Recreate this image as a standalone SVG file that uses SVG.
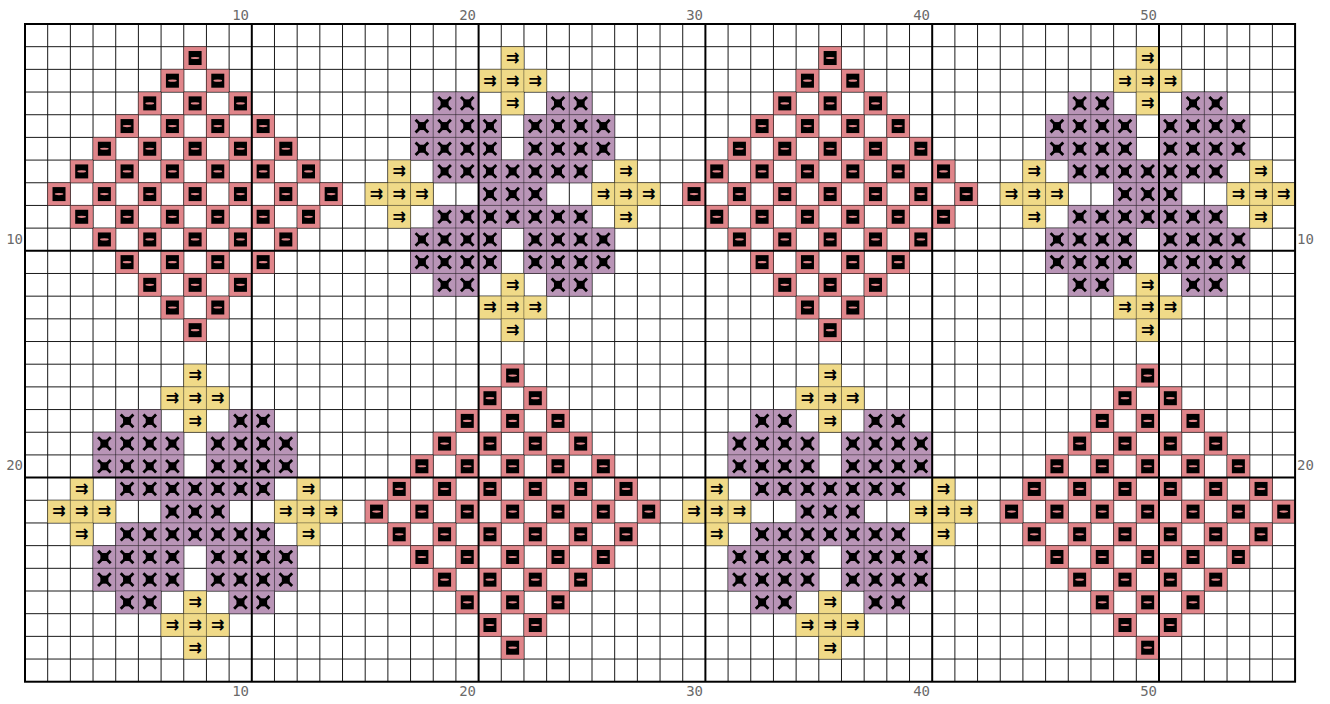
<svg xmlns="http://www.w3.org/2000/svg" xmlns:xlink="http://www.w3.org/1999/xlink" width="1330" height="704" viewBox="0 0 1330 704">
<style>
.g{stroke:#1a1a1a;stroke-width:1;fill:none}
.t{stroke:#000;stroke-width:2;fill:none}
.rf{fill:#E0858A;stroke:rgba(0,0,0,0.28);stroke-width:1}
.pf{fill:#B995B7;stroke:rgba(0,0,0,0.28);stroke-width:1}
.yf{fill:#F0DA88;stroke:rgba(0,0,0,0.25);stroke-width:1}
.lab{font-family:"DejaVu Sans Mono","Liberation Mono",monospace;font-size:14px;fill:#6a6a6a}
.ys{font-family:"DejaVu Sans",sans-serif;font-size:16px;font-weight:bold;fill:#000}
</style>
<defs>
<g id="r"><rect class="rf" width="22.68" height="22.68"/><rect x="4.84" y="4.34" width="13" height="14" fill="#000"/><ellipse cx="11.34" cy="11.34" rx="4.3" ry="1.1" fill="#E0858A"/></g>
<g id="p"><rect class="pf" width="22.68" height="22.68"/><path d="M6 6L16.68 16.68M16.68 6L6 16.68" stroke="#000" stroke-width="2.8" stroke-linecap="square"/><rect x="7.34" y="7.34" width="8" height="8" fill="#000"/></g>
<g id="y"><rect class="yf" width="22.68" height="22.68"/><text class="ys" x="11.34" y="16.2" text-anchor="middle">⇉</text></g>
<g id="redMotif">
<use href="#r" x="0" y="-136.08"/>
<use href="#r" x="-22.68" y="-113.4"/><use href="#r" x="22.68" y="-113.4"/>
<use href="#r" x="-45.36" y="-90.72"/><use href="#r" x="0" y="-90.72"/><use href="#r" x="45.36" y="-90.72"/>
<use href="#r" x="-68.04" y="-68.04"/><use href="#r" x="-22.68" y="-68.04"/><use href="#r" x="22.68" y="-68.04"/><use href="#r" x="68.04" y="-68.04"/>
<use href="#r" x="-90.72" y="-45.36"/><use href="#r" x="-45.36" y="-45.36"/><use href="#r" x="0" y="-45.36"/><use href="#r" x="45.36" y="-45.36"/><use href="#r" x="90.72" y="-45.36"/>
<use href="#r" x="-113.4" y="-22.68"/><use href="#r" x="-68.04" y="-22.68"/><use href="#r" x="-22.68" y="-22.68"/><use href="#r" x="22.68" y="-22.68"/><use href="#r" x="68.04" y="-22.68"/><use href="#r" x="113.4" y="-22.68"/>
<use href="#r" x="-136.08" y="0"/><use href="#r" x="-90.72" y="0"/><use href="#r" x="-45.36" y="0"/><use href="#r" x="0" y="0"/><use href="#r" x="45.36" y="0"/><use href="#r" x="90.72" y="0"/><use href="#r" x="136.08" y="0"/>
<use href="#r" x="-113.4" y="22.68"/><use href="#r" x="-68.04" y="22.68"/><use href="#r" x="-22.68" y="22.68"/><use href="#r" x="22.68" y="22.68"/><use href="#r" x="68.04" y="22.68"/><use href="#r" x="113.4" y="22.68"/>
<use href="#r" x="-90.72" y="45.36"/><use href="#r" x="-45.36" y="45.36"/><use href="#r" x="0" y="45.36"/><use href="#r" x="45.36" y="45.36"/><use href="#r" x="90.72" y="45.36"/>
<use href="#r" x="-68.04" y="68.04"/><use href="#r" x="-22.68" y="68.04"/><use href="#r" x="22.68" y="68.04"/><use href="#r" x="68.04" y="68.04"/>
<use href="#r" x="-45.36" y="90.72"/><use href="#r" x="0" y="90.72"/><use href="#r" x="45.36" y="90.72"/>
<use href="#r" x="-22.68" y="113.4"/><use href="#r" x="22.68" y="113.4"/>
<use href="#r" x="0" y="136.08"/>
</g>
<g id="purpleMotif">
<use href="#p" x="-68.04" y="-90.72"/><use href="#p" x="-45.36" y="-90.72"/><use href="#p" x="45.36" y="-90.72"/><use href="#p" x="68.04" y="-90.72"/>
<use href="#p" x="-90.72" y="-68.04"/><use href="#p" x="-68.04" y="-68.04"/><use href="#p" x="-45.36" y="-68.04"/><use href="#p" x="-22.68" y="-68.04"/><use href="#p" x="22.68" y="-68.04"/><use href="#p" x="45.36" y="-68.04"/><use href="#p" x="68.04" y="-68.04"/><use href="#p" x="90.72" y="-68.04"/>
<use href="#p" x="-90.72" y="-45.36"/><use href="#p" x="-68.04" y="-45.36"/><use href="#p" x="-45.36" y="-45.36"/><use href="#p" x="-22.68" y="-45.36"/><use href="#p" x="22.68" y="-45.36"/><use href="#p" x="45.36" y="-45.36"/><use href="#p" x="68.04" y="-45.36"/><use href="#p" x="90.72" y="-45.36"/>
<use href="#p" x="-68.04" y="-22.68"/><use href="#p" x="-45.36" y="-22.68"/><use href="#p" x="-22.68" y="-22.68"/><use href="#p" x="0" y="-22.68"/><use href="#p" x="22.68" y="-22.68"/><use href="#p" x="45.36" y="-22.68"/><use href="#p" x="68.04" y="-22.68"/>
<use href="#p" x="-22.68" y="0"/><use href="#p" x="0" y="0"/><use href="#p" x="22.68" y="0"/>
<use href="#p" x="-68.04" y="22.68"/><use href="#p" x="-45.36" y="22.68"/><use href="#p" x="-22.68" y="22.68"/><use href="#p" x="0" y="22.68"/><use href="#p" x="22.68" y="22.68"/><use href="#p" x="45.36" y="22.68"/><use href="#p" x="68.04" y="22.68"/>
<use href="#p" x="-90.72" y="45.36"/><use href="#p" x="-68.04" y="45.36"/><use href="#p" x="-45.36" y="45.36"/><use href="#p" x="-22.68" y="45.36"/><use href="#p" x="22.68" y="45.36"/><use href="#p" x="45.36" y="45.36"/><use href="#p" x="68.04" y="45.36"/><use href="#p" x="90.72" y="45.36"/>
<use href="#p" x="-90.72" y="68.04"/><use href="#p" x="-68.04" y="68.04"/><use href="#p" x="-45.36" y="68.04"/><use href="#p" x="-22.68" y="68.04"/><use href="#p" x="22.68" y="68.04"/><use href="#p" x="45.36" y="68.04"/><use href="#p" x="68.04" y="68.04"/><use href="#p" x="90.72" y="68.04"/>
<use href="#p" x="-68.04" y="90.72"/><use href="#p" x="-45.36" y="90.72"/><use href="#p" x="45.36" y="90.72"/><use href="#p" x="68.04" y="90.72"/>
<use href="#y" x="0" y="-136.08"/>
<use href="#y" x="-22.68" y="-113.4"/><use href="#y" x="0" y="-113.4"/><use href="#y" x="22.68" y="-113.4"/>
<use href="#y" x="0" y="-90.72"/>
<use href="#y" x="-113.4" y="-22.68"/><use href="#y" x="113.4" y="-22.68"/>
<use href="#y" x="-136.08" y="0"/><use href="#y" x="-113.4" y="0"/><use href="#y" x="-90.72" y="0"/><use href="#y" x="90.72" y="0"/><use href="#y" x="113.4" y="0"/><use href="#y" x="136.08" y="0"/>
<use href="#y" x="-113.4" y="22.68"/><use href="#y" x="113.4" y="22.68"/>
<use href="#y" x="0" y="90.72"/>
<use href="#y" x="-22.68" y="113.4"/><use href="#y" x="0" y="113.4"/><use href="#y" x="22.68" y="113.4"/>
<use href="#y" x="0" y="136.08"/>
</g>
</defs>
<rect width="1330" height="704" fill="#fff"/>
<g id="grid-thin">
<path class="g" d="M47.68 24V681.72M70.36 24V681.72M93.04 24V681.72M115.72 24V681.72M138.4 24V681.72M161.08 24V681.72M183.76 24V681.72M206.44 24V681.72M229.12 24V681.72M274.48 24V681.72M297.16 24V681.72M319.84 24V681.72M342.52 24V681.72M365.2 24V681.72M387.88 24V681.72M410.56 24V681.72M433.24 24V681.72M455.92 24V681.72M501.28 24V681.72M523.96 24V681.72M546.64 24V681.72M569.32 24V681.72M592 24V681.72M614.68 24V681.72M637.36 24V681.72M660.04 24V681.72M682.72 24V681.72M728.08 24V681.72M750.76 24V681.72M773.44 24V681.72M796.12 24V681.72M818.8 24V681.72M841.48 24V681.72M864.16 24V681.72M886.84 24V681.72M909.52 24V681.72M954.88 24V681.72M977.56 24V681.72M1000.24 24V681.72M1022.92 24V681.72M1045.6 24V681.72M1068.28 24V681.72M1090.96 24V681.72M1113.64 24V681.72M1136.32 24V681.72M1181.68 24V681.72M1204.36 24V681.72M1227.04 24V681.72M1249.72 24V681.72M1272.4 24V681.72"/>
<path class="g" d="M25 46.68H1295.08M25 69.36H1295.08M25 92.04H1295.08M25 114.72H1295.08M25 137.4H1295.08M25 160.08H1295.08M25 182.76H1295.08M25 205.44H1295.08M25 228.12H1295.08M25 273.48H1295.08M25 296.16H1295.08M25 318.84H1295.08M25 341.52H1295.08M25 364.2H1295.08M25 386.88H1295.08M25 409.56H1295.08M25 432.24H1295.08M25 454.92H1295.08M25 500.28H1295.08M25 522.96H1295.08M25 545.64H1295.08M25 568.32H1295.08M25 591H1295.08M25 613.68H1295.08M25 636.36H1295.08M25 659.04H1295.08"/>
</g>
<g id="motifs">
<use id="motif-top-1" href="#redMotif" transform="translate(183.76,182.76)"/>
<use id="motif-top-2" href="#purpleMotif" transform="translate(501.28,182.76)"/>
<use id="motif-top-3" href="#redMotif" transform="translate(818.8,182.76)"/>
<use id="motif-top-4" href="#purpleMotif" transform="translate(1136.32,182.76)"/>
<use id="motif-bottom-1" href="#purpleMotif" transform="translate(183.76,500.28)"/>
<use id="motif-bottom-2" href="#redMotif" transform="translate(501.28,500.28)"/>
<use id="motif-bottom-3" href="#purpleMotif" transform="translate(818.8,500.28)"/>
<use id="motif-bottom-4" href="#redMotif" transform="translate(1136.32,500.28)"/>
</g>
<g id="grid-thick">
<path class="t" d="M251.8 24V681.72M478.6 24V681.72M705.4 24V681.72M932.2 24V681.72M1159 24V681.72M25 250.8H1295.08M25 477.6H1295.08"/>
<rect class="t" x="25" y="24" width="1270.08" height="657.72"/>
</g>
<g id="labels" class="lab">
<text x="249" y="20" text-anchor="end">10</text>
<text x="476" y="20" text-anchor="end">20</text>
<text x="703" y="20" text-anchor="end">30</text>
<text x="930" y="20" text-anchor="end">40</text>
<text x="1157" y="20" text-anchor="end">50</text>
<text x="249" y="696" text-anchor="end">10</text>
<text x="476" y="696" text-anchor="end">20</text>
<text x="703" y="696" text-anchor="end">30</text>
<text x="930" y="696" text-anchor="end">40</text>
<text x="1157" y="696" text-anchor="end">50</text>
<text x="23" y="243.5" text-anchor="end">10</text>
<text x="23" y="470.3" text-anchor="end">20</text>
<text x="1297" y="243.5">10</text>
<text x="1297" y="470.3">20</text>
</g>
</svg>
